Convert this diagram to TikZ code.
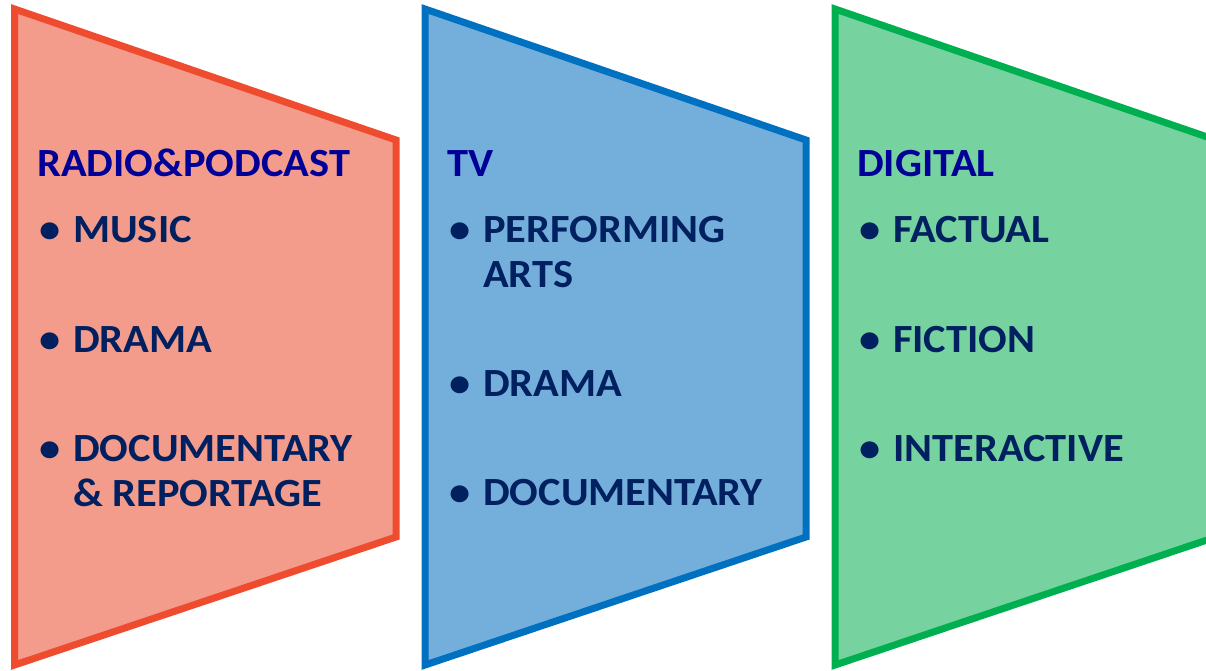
\documentclass[tikz,border=0pt]{standalone}
\usepackage{fontspec}
\setmainfont{Carlito}[FakeStretch=1.06]
\usetikzlibrary{positioning}

\definecolor{radiofill}{HTML}{F49C8B}
\definecolor{radioline}{HTML}{EF4B2E}
\definecolor{tvfill}{HTML}{74AFDB}
\definecolor{tvline}{HTML}{0070C0}
\definecolor{digifill}{HTML}{76D39F}
\definecolor{digiline}{HTML}{00B050}
\definecolor{headblue}{HTML}{000099}
\definecolor{itemnavy}{HTML}{002060}

\tikzset{
  panel/.style={line width=7pt, line join=miter},
  heading/.style={anchor=base west, inner sep=0pt, text=headblue,
    font=\fontsize{40}{45}\selectfont\bfseries},
  item/.style={anchor=base west, inner sep=0pt, align=left, text=itemnavy,
    font=\fontsize{40}{45}\selectfont\bfseries},
  dot/.style={anchor=base west, inner sep=0pt, text=itemnavy,
    font=\fontsize{40}{45}\selectfont\bfseries}
}

\begin{document}
\begin{tikzpicture}[x=1pt, y=-1pt]
        \useasboundingbox (0,0) rectangle (1206,670);
        \clip (0,0) rectangle (1206,670);

        % radio & podcast panel
        \draw[panel, draw=radioline, fill=radiofill] (14.5,9) -- (396,140) -- (396,537) -- (14.5,665) -- cycle;
        \node[heading] (radio) at (37,176) {RADIO\&PODCAST};

        % tv panel
        \draw[panel, draw=tvline, fill=tvfill] (425,9) -- (806,140) -- (806,537) -- (425,665) -- cycle;
        \node[heading] (tv) at (447,176) {TV};

        % digital panel (runs off the right edge)
        \draw[panel, draw=digiline, fill=digifill] (835,9) -- (1216,140) -- (1216,537) -- (835,665) -- cycle;
        \node[heading] (digital) at (857,176) {DIGITAL};

        % bullet items (y = last baseline, b = bullet baseline)
        \foreach \n/\x/\y/\b/\t in {music/73/242/242/{MUSIC}, rdrama/73/352/352/{DRAMA},
            rdoc/73/506/461/{DOCUMENTARY\\\& REPORTAGE},
            arts/483/287/242/{PERFORMING\\ARTS}, tdrama/483/396/396/{DRAMA},
            tdoc/483/505/505/{DOCUMENTARY},
            factual/893/242/242/{FACTUAL}, fiction/893/352/352/{FICTION},
            inter/893/461/461/{INTERACTIVE}} {
            \node[item] (\n) at (\x,\y) {\t};
            \node[dot] (\n-dot) at (\x-34,\b) {\textbullet};
        }

    \end{tikzpicture}
\end{document}
